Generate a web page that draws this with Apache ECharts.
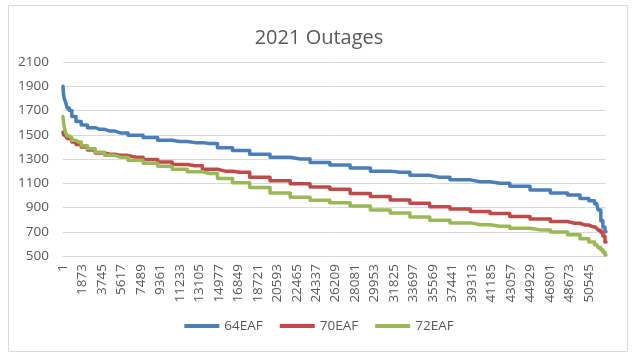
<!DOCTYPE html>
<html>
<head>
<meta charset="utf-8">
<script src="https://cdn.jsdelivr.net/npm/echarts@6/dist/echarts.min.js"></script>
<style>
html,body{margin:0;padding:0;background:#fff;}
#chart{width:638px;height:356px;}
</style>
</head>
<body>
<div id="chart"></div>
<script>
// ---- data ----
const chartTitle = '2021 Outages';
const seriesNames = ['64EAF', '70EAF', '72EAF'];
// sample positions (row number in the sorted duration curve)
const rows = [1, 100, 200, 300, 500, 700, 1000, 1500, 2000, 2700, 3500, 4500, 5500, 7000, 8400, 9800,
  11200, 12700, 14100, 15600, 17000, 18900, 20900, 22800, 24700, 26600, 28600, 30500, 32400, 34300,
  36200, 38200, 40100, 42000, 43900, 45900, 47800, 49200, 50200, 50900, 51300, 51600, 51800, 52000, 52200];
const s64EAF = [1900, 1830, 1790, 1770, 1720, 1700, 1650, 1610, 1580, 1558, 1545, 1530, 1515, 1495, 1478, 1455,
  1445, 1435, 1428, 1392, 1370, 1340, 1315, 1300, 1272, 1250, 1225, 1200, 1190, 1165,
  1150, 1128, 1113, 1100, 1075, 1045, 1020, 1003, 975, 955, 930, 880, 790, 740, 700];
const s70EAF = [1520, 1500, 1490, 1485, 1470, 1460, 1440, 1420, 1400, 1375, 1350, 1340, 1330, 1315, 1295, 1275,
  1255, 1245, 1215, 1200, 1190, 1150, 1120, 1095, 1070, 1050, 1015, 990, 962, 935,
  907, 888, 868, 850, 825, 805, 785, 770, 755, 742, 730, 712, 695, 665, 615];
const s72EAF = [1650, 1600, 1550, 1520, 1490, 1475, 1455, 1440, 1410, 1385, 1355, 1330, 1315, 1290, 1265, 1240,
  1215, 1195, 1180, 1140, 1105, 1065, 1020, 985, 960, 940, 912, 880, 855, 822,
  795, 773, 758, 745, 728, 715, 697, 675, 642, 615, 592, 570, 552, 530, 508];
const yTicks = [500, 700, 900, 1100, 1300, 1500, 1700, 1900, 2100];
const xTickLabels = [1, 1873, 3745, 5617, 7489, 9361, 11233, 13105, 14977, 16849, 18721, 20593, 22465, 24337,
  26209, 28081, 29953, 31825, 33697, 35569, 37441, 39313, 41185, 43057, 44929, 46801, 48673, 50545];
const xLast = 52200;

const colors = ['#4A7EBB', '#BE4B48', '#98B954'];
const seriesValues = [s64EAF, s70EAF, s72EAF];
const labelSet = new Set(xTickLabels.map(String));
const FONT = '"Open Sans", sans-serif';

const chart = echarts.init(document.getElementById('chart'));
chart.setOption({
  animation: false,
  backgroundColor: '#ffffff',
  color: colors,
  title: {
    text: chartTitle,
    left: 'center',
    top: 23,
    textStyle: {fontFamily: FONT, fontSize: 20, fontWeight: 'normal', color: '#595959'}
  },
  graphic: [{
    type: 'rect', left: 6, top: 3, silent: true,
    shape: {width: 619, height: 346},
    style: {fill: 'none', stroke: '#D9D9D9', lineWidth: 1}
  }],
  legend: {
    bottom: 18,
    left: 'center',
    icon: 'rect',
    itemWidth: 35,
    itemHeight: 4,
    itemGap: 17,
    textStyle: {fontFamily: FONT, fontSize: 13.5, color: '#595959'},
    data: seriesNames
  },
  grid: {left: 63, right: 32, top: 62, bottom: 100, containLabel: false},
  xAxis: {
    type: 'value',
    min: xTickLabels[0],
    max: xLast,
    interval: xTickLabels[1] - xTickLabels[0],
    axisLine: {show: true, lineStyle: {color: '#D9D9D9'}},
    axisTick: {show: false},
    splitLine: {show: false},
    axisLabel: {
      rotate: 90, margin: 8, showMaxLabel: false,
      fontFamily: FONT, fontSize: 13.5, color: '#595959',
      formatter: v => labelSet.has(String(v)) ? String(v) : ''
    }
  },
  yAxis: {
    type: 'value',
    min: yTicks[0],
    max: yTicks[yTicks.length - 1],
    interval: yTicks[1] - yTicks[0],
    axisLine: {show: false},
    axisTick: {show: false},
    splitLine: {show: true, lineStyle: {color: '#D9D9D9', width: 1}},
    axisLabel: {margin: 14, fontFamily: FONT, fontSize: 13.5, color: '#595959',
      formatter: v => String(v)}
  },
  series: seriesNames.map((name, i) => ({
    name: name,
    type: 'line',
    step: 'middle',
    showSymbol: false,
    symbol: 'none',
    lineStyle: {width: 3.5, color: colors[i], join: 'round', cap: 'round'},
    data: rows.map((r, j) => [r, seriesValues[i][j]])
  }))
});
</script>
</body>
</html>
